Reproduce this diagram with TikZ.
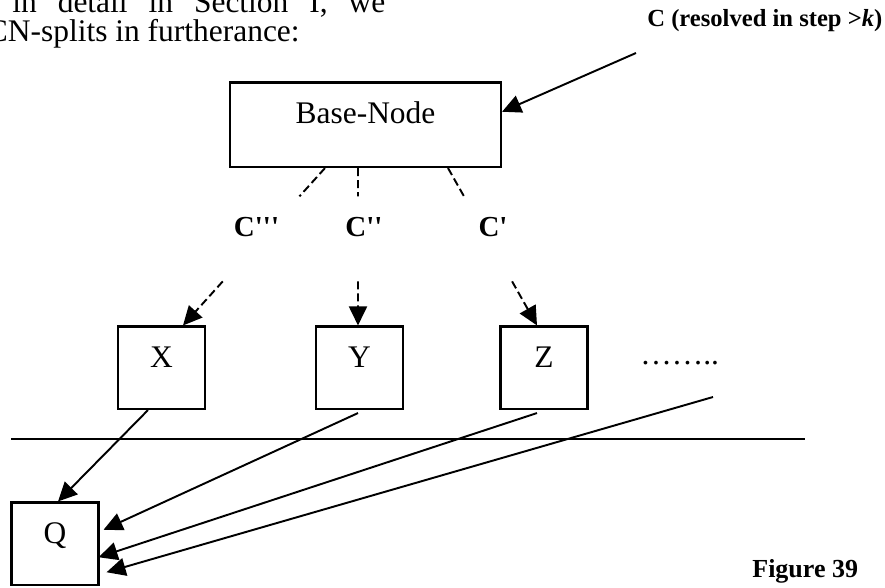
\documentclass[tikz,border=0pt]{standalone}
\usepackage{fontspec}
\setmainfont{Liberation Serif}
\usetikzlibrary{arrows.meta,calc}

\begin{document}
\begin{tikzpicture}[every node/.style={font=\fontsize{17.9}{21}\selectfont},
  box/.style={draw, line width=1.2pt, inner sep=0pt, minimum width=1.74cm,
    text height=0.81cm, text depth=0.84cm, anchor=base},
  lbl/.style={font=\fontsize{16.5}{20}\selectfont\bfseries, anchor=base},
  tip/.style={-{Triangle[length=0.38cm, width=0.36cm]}},
  link/.style={line width=1.1pt, tip},
  dashlink/.style={line width=1.1pt, dash pattern=on 0.16cm off 0.08cm}]
  \useasboundingbox (0,0) rectangle (17.7,11.74);
  \node[anchor=base west, inner sep=0pt] (txt1) at (0.24,11.48)
        {\makebox[7.46cm][s]{in detail in Section I, we}};
  \node[anchor=base east, inner sep=0pt] (txt2) at (6.0,10.90) {CN-splits in furtherance:};
  \node[font=\fontsize{14}{17}\selectfont\bfseries, anchor=base west, inner sep=0pt] (note)
        at (12.94,11.20) {C (resolved in step \textgreater\textit{k})};
  \node[box, minimum width=5.42cm, text depth=0.88cm] (base) at (7.31,9.28) {Base-Node};
  \node[lbl] (c3) at (5.13,7.02) {C\textquotesingle\textquotesingle\textquotesingle};
  \node[lbl] (c2) at (7.28,7.02) {C\textquotesingle\textquotesingle};
  \node[lbl] (c1) at (9.86,7.02) {C\textquotesingle};
  \node[box] (x) at (3.23,4.40) {X};
  \node[box] (y) at (7.19,4.40) {Y};
  \node[box] (z) at (10.88,4.40) {Z};
  \node[anchor=base west, inner sep=0pt] (more) at (12.80,4.46) {……..};
  \node[box] (q) at (1.10,0.88) {Q};
  \node[font=\fontsize{14.8}{18}\selectfont\bfseries, anchor=base west, inner sep=0pt] (fig)
        at (15.04,0.20) {Figure 39};
  \coordinate (src) at (12.72,10.68);
  \coordinate (etc) at (14.26,3.80);
  \coordinate (b3) at ([xshift=-0.81cm]base.south);
  \coordinate (t3) at ([xshift=0.43cm]x.north);
  \coordinate (b2) at ([xshift=-0.15cm]base.south);
  \coordinate (t2) at ([xshift=-0.03cm]y.north);
  \coordinate (b1) at ([xshift=1.65cm]base.south);
  \coordinate (t1) at ([xshift=-0.14cm]z.north);
  \draw[link] (src) -- ([yshift=0.26cm]base.east);
  \foreach \i in {1,2,3} {
    \draw[dashlink] (b\i) -- ($(b\i)!0.18!(t\i)$);
    \draw[dashlink, tip] ($(b\i)!0.72!(t\i)$) -- (t\i);
  }
  \draw[line width=1.4pt] (0.22,2.96) -- (16.10,2.96);
  \draw[link] ([xshift=-0.27cm]x.south) -- ([xshift=0.06cm]q.north);
  \draw[link] ([xshift=-0.03cm,yshift=-0.06cm]y.south) -- ([xshift=0.08cm,yshift=0.28cm]q.east);
  \draw[link] ([xshift=-0.14cm,yshift=-0.06cm]z.south) -- ([xshift=-0.02cm,yshift=-0.27cm]q.east);
  \draw[link] (etc) -- ([xshift=0.14cm,yshift=-0.57cm]q.east);
\end{tikzpicture}
\end{document}
